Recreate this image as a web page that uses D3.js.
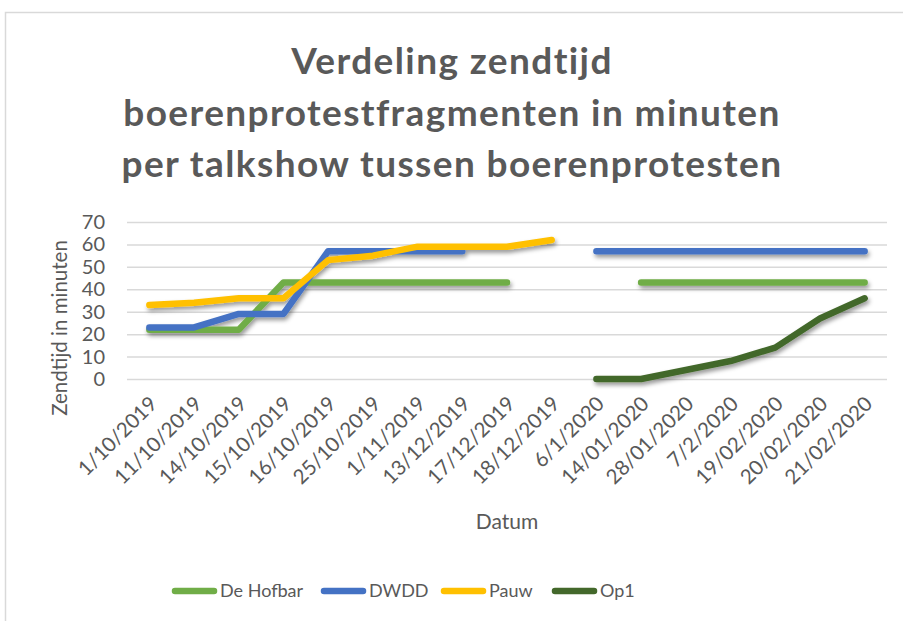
<!DOCTYPE html>
<html lang="en">
    <head>
        <meta charset="utf-8">
        <title>Verdeling zendtijd</title>
        <style>
          body {
            margin: 0;
            background: white;
          }
          .grid line {
            stroke: #d9d9d9;
            stroke-width: 1.5px;
          }
          .grid .domain {
            display: none;
          }
          text {
            font-family: Lato, "Open Sans", sans-serif;
            fill: #595959;
          }
          .title {
            font-weight: bold;
            font-size: 37px;
            letter-spacing: 1.4px;
            text-anchor: middle;
          }
          .series {
            fill: none;
            stroke-width: 6.5px;
            stroke-linecap: round;
            stroke-linejoin: round;
          }
        </style>
        <script src="https://d3js.org/d3.v7.min.js"></script>
    </head>
    <body>
        <script type="text/javascript">
          var w=903;
          var h=621;

          // categories (x axis labels)
          var dates=['1/10/2019','11/10/2019','14/10/2019','15/10/2019','16/10/2019','25/10/2019','1/11/2019',
                     '13/12/2019','17/12/2019','18/12/2019','6/1/2020','14/01/2020','28/01/2020','7/2/2020',
                     '19/02/2020','20/02/2020','21/02/2020'];

          // minutes per talkshow, null = no value
          var hofbar=[22,22,22,43,43,43,43,43,43,null,null,43,43,43,43,43,43];
          var dwdd  =[23,23,29,29,57,57,57,57,null,null,57,57,57,57,57,57,57];
          var pauw  =[33,34,36,36,53,55,59,59,59,62,null,null,null,null,null,null,null];
          var op1   =[null,null,null,null,null,null,null,null,null,null,0,0,4,8,14,27,36];

          var seriesNames=['De Hofbar','DWDD','Pauw','Op1'];
          var seriesColors=['#70ad47','#4472c4','#ffc000','#43682b'];
          var yTicks=[0,10,20,30,40,50,60,70];

          var titleLines=['Verdeling zendtijd','boerenprotestfragmenten in minuten','per talkshow tussen boerenprotesten'];

          var svg=d3.select("body").append("svg")
            .attr('width',w)
            .attr('height',h);

          // shadow under the lines
          var filter=svg.append('defs').append('filter')
            .attr('id','shadow')
            .attr('x','-10%').attr('y','-10%')
            .attr('width','120%').attr('height','140%');
          filter.append('feDropShadow')
            .attr('dx',1.5)
            .attr('dy',3)
            .attr('stdDeviation',2)
            .attr('flood-color','#000')
            .attr('flood-opacity',0.4);

          // chart border
          svg.append('rect')
            .attr('x',5.5).attr('y',12.5)
            .attr('width',1000).attr('height',700)
            .attr('fill','white')
            .attr('stroke','#d9d9d9')
            .attr('stroke-width',1.5);

          // title
          svg.append('g').selectAll('text')
            .data(titleLines)
            .enter().append('text')
            .attr('class','title')
            .attr('x',452)
            .attr('y',function(d,i){ return 74+i*51.5; })
            .text(function(d){ return d; });

          var x=d3.scaleBand()
            .domain(dates)
            .range([127,887]);

          var y=d3.scaleLinear()
            .domain([0,70])
            .range([379,222]);

          // gridlines
          svg.append('g')
            .attr('class','grid')
            .attr('transform','translate(127,0)')
            .call(d3.axisLeft(y).tickValues(yTicks).tickSize(-760).tickFormat(''));

          // y tick labels
          svg.append('g').selectAll('text')
            .data(yTicks)
            .enter().append('text')
            .attr('x',105)
            .attr('y',function(d){ return y(d); })
            .attr('dy','0.35em')
            .attr('text-anchor','end')
            .style('font-size','20px')
            .text(function(d){ return d; });

          // x tick labels
          svg.append('g').selectAll('text')
            .data(dates)
            .enter().append('text')
            .attr('transform',function(d){
              return 'translate('+(x(d)+x.bandwidth()/2+4)+',400) rotate(-45)';
            })
            .attr('text-anchor','end')
            .attr('dy','0.35em')
            .style('font-size','20.5px')
            .text(function(d){ return d; });

          // axis titles
          svg.append('text')
            .attr('transform','translate(67,328) rotate(-90)')
            .attr('text-anchor','middle')
            .style('font-size','20.5px')
            .text('Zendtijd in minuten');

          svg.append('text')
            .attr('x',507)
            .attr('y',529)
            .attr('text-anchor','middle')
            .style('font-size','21px')
            .text('Datum');

          // lines
          var allSeries=[hofbar,dwdd,pauw,op1];
          var line=d3.line()
            .defined(function(d){ return d!=null; })
            .x(function(d,i){ return x(dates[i])+x.bandwidth()/2; })
            .y(function(d){ return y(d); });

          svg.append('g')
            .attr('filter','url(#shadow)')
            .selectAll('path')
            .data(allSeries)
            .enter().append('path')
            .attr('class','series')
            .attr('stroke',function(d,i){ return seriesColors[i]; })
            .attr('d',line);

          // legend
          var legendX=[172,321,441,552];
          var legend=svg.append('g').selectAll('g')
            .data(seriesNames)
            .enter().append('g')
            .attr('transform',function(d,i){ return 'translate('+legendX[i]+',591)'; });
          legend.append('line')
            .attr('x1',3).attr('x2',42)
            .attr('stroke',function(d,i){ return seriesColors[i]; })
            .attr('stroke-width',6.5)
            .attr('stroke-linecap','round');
          legend.append('text')
            .attr('x',48)
            .attr('dy','0.35em')
            .style('font-size','18px')
            .text(function(d){ return d; });
        </script>
    </body>
</html>
